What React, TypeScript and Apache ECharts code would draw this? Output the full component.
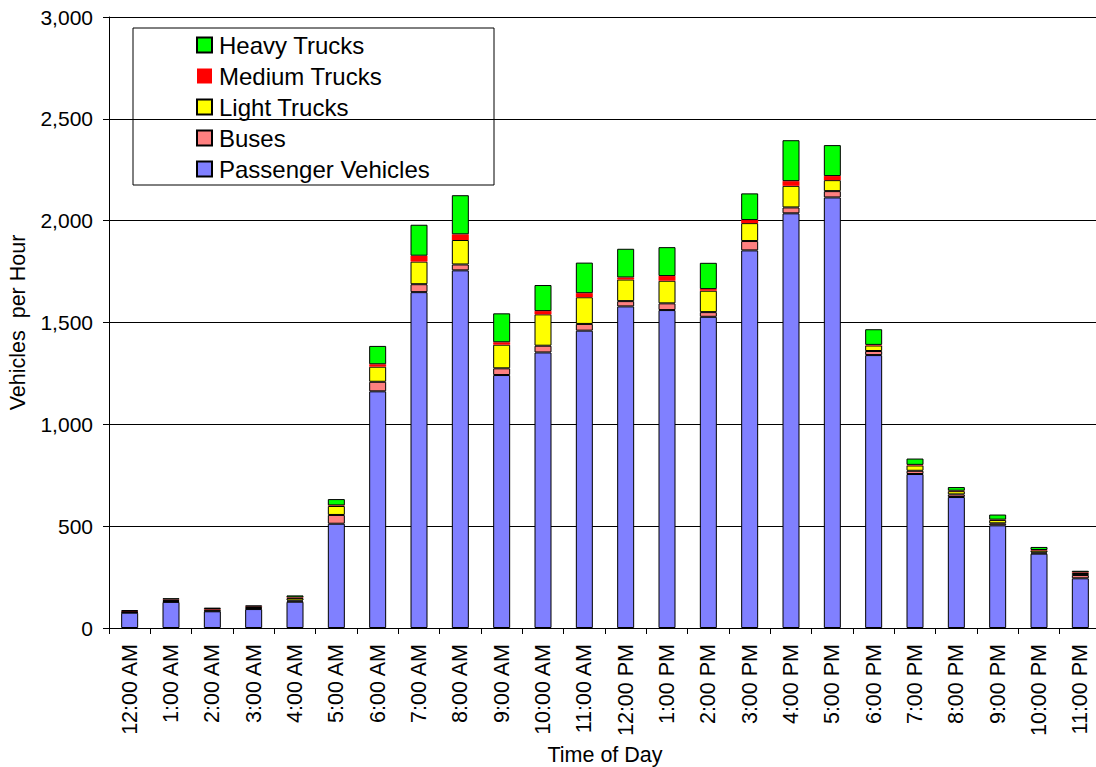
import React, { useEffect, useRef } from "react";
import * as echarts from "echarts";

const categories = [
  "12:00 AM", "1:00 AM", "2:00 AM", "3:00 AM", "4:00 AM", "5:00 AM",
  "6:00 AM", "7:00 AM", "8:00 AM", "9:00 AM", "10:00 AM", "11:00 AM",
  "12:00 PM", "1:00 PM", "2:00 PM", "3:00 PM", "4:00 PM", "5:00 PM",
  "6:00 PM", "7:00 PM", "8:00 PM", "9:00 PM", "10:00 PM", "11:00 PM",
];

const passengerVehicles = [75, 128, 82, 93, 129, 512, 1162, 1649, 1756, 1242, 1353, 1460, 1579, 1561, 1528, 1854, 2036, 2114, 1340, 756, 643, 504, 365, 244];
const buses = [3, 4, 3, 4, 6, 43, 47, 39, 29, 33, 33, 33, 26, 33, 23, 46, 29, 31, 20, 16, 13, 10, 6, 16];
const lightTrucks = [4, 6, 6, 6, 12, 44, 74, 111, 120, 116, 154, 131, 106, 111, 105, 88, 106, 54, 27, 26, 16, 16, 10, 10];
const mediumTrucks = [1, 2, 2, 2, 3, 3, 12, 29, 28, 12, 16, 20, 10, 23, 8, 15, 23, 20, 3, 3, 2, 2, 2, 3];
const heavyTrucks = [5, 6, 7, 6, 10, 31, 90, 152, 192, 142, 128, 150, 141, 142, 129, 131, 201, 152, 77, 31, 18, 25, 15, 8];

const yTicks = [0, 500, 1000, 1500, 2000, 2500, 3000];

const FONT = "Arial, 'Liberation Sans', sans-serif";

export default function App() {
  const ref = useRef<HTMLDivElement>(null);

  useEffect(() => {
    if (!ref.current) return;
    const chart = echarts.init(ref.current, undefined, { renderer: "svg" });

    const mk = (name: string, data: number[], color: string, border: boolean) => ({
      name,
      type: "bar",
      stack: "total",
      data,
      barWidth: 17,
      itemStyle: {
        color,
        borderColor: "#000",
        borderWidth: border ? 1 : 0,
      },
      emphasis: { disabled: true },
    });

    chart.setOption({
      animation: false,
      backgroundColor: "#fff",
      grid: { left: 109, top: 17, right: -5, bottom: 139, containLabel: false, outerBoundsMode: "none" },
      legend: {
        orient: "vertical",
        left: 196,
        top: 33,
        icon: "rect",
        itemWidth: 15,
        itemHeight: 15,
        itemGap: 7,
        padding: 0,
        data: ["Heavy Trucks", "Medium Trucks", "Light Trucks", "Buses", "Passenger Vehicles"],
        textStyle: { fontFamily: FONT, fontSize: 24, color: "#000", lineHeight: 24, padding: [0, 0, 0, 2] },
        selectedMode: false,
      },
      graphic: [
        {
          type: "rect",
          shape: { x: 133, y: 28, width: 361, height: 157 },
          style: { fill: "#fff", stroke: "#000", lineWidth: 1 },
          z: 0,
          zlevel: 0,
        },
      ],
      xAxis: {
        type: "category",
        data: categories,
        name: "Time of Day",
        nameLocation: "middle",
        nameGap: 115,
        nameTextStyle: { fontFamily: FONT, fontSize: 21.5, color: "#000" },
        axisLine: { lineStyle: { color: "#000", width: 1 } },
        axisTick: { show: true, length: 6, lineStyle: { color: "#000" } },
        axisLabel: {
          rotate: 90,
          interval: 0,
          margin: 16,
          fontFamily: FONT,
          fontSize: 21.5,
          color: "#000",
        },
      },
      yAxis: {
        type: "value",
        min: 0,
        max: 3000,
        interval: 500,
        name: "Vehicles  per Hour",
        nameLocation: "middle",
        nameGap: 80,
        nameTextStyle: { fontFamily: FONT, fontSize: 21.5, color: "#000" },
        axisLine: { show: true, lineStyle: { color: "#000", width: 1 } },
        axisTick: { show: true, length: 6, lineStyle: { color: "#000" } },
        splitLine: { show: true, lineStyle: { color: "#000", width: 1 } },
        axisLabel: {
          margin: 16,
          fontFamily: FONT,
          fontSize: 21,
          color: "#000",
          formatter: (v: number) => (yTicks.includes(v) ? v.toLocaleString("en-US") : ""),
        },
      },
      series: [
        mk("Passenger Vehicles", passengerVehicles, "#8080FF", true),
        mk("Buses", buses, "#FF8080", true),
        mk("Light Trucks", lightTrucks, "#FFFF00", true),
        mk("Medium Trucks", mediumTrucks, "#FF0000", false),
        mk("Heavy Trucks", heavyTrucks, "#00FF00", true),
      ],
    });

    return () => chart.dispose();
  }, []);

  return (
    <div
      ref={ref}
      style={{ position: "fixed", left: 0, top: 0, width: 1096, height: 767, background: "#fff" }}
    />
  );
}
